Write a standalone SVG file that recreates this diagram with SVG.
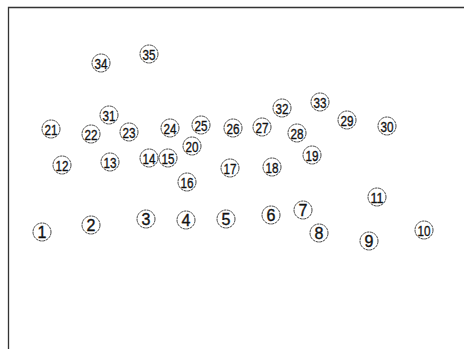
<svg xmlns="http://www.w3.org/2000/svg" width="464" height="349" viewBox="0 0 464 349">
<style>
.n circle{fill:#fff;stroke:#333;stroke-width:0.9;stroke-dasharray:3 0.6}
.n text{font-family:"Liberation Sans",Arial,sans-serif;font-size:16px;fill:#111;stroke:#111;stroke-width:0.35;text-anchor:middle;dominant-baseline:central}
.n text.d{font-size:15.5px}
.frame{fill:none;stroke:#333;stroke-width:1.3}
</style>
<rect width="464" height="349" fill="#fff"/>
<path class="frame" d="M8.5 349V7.5H464"/>
<g id="connectors"></g>
<g id="n1" class="n"><circle cx="42" cy="232" r="9"/><text x="42" y="232.5">1</text></g>
<g id="n2" class="n"><circle cx="91" cy="225" r="9"/><text x="91" y="225.5">2</text></g>
<g id="n3" class="n"><circle cx="146" cy="219" r="9"/><text x="146" y="219.5">3</text></g>
<g id="n4" class="n"><circle cx="186" cy="220" r="9"/><text x="186" y="220.5">4</text></g>
<g id="n5" class="n"><circle cx="226" cy="219" r="9"/><text x="226" y="219.5">5</text></g>
<g id="n6" class="n"><circle cx="271" cy="215" r="9"/><text x="271" y="215.5">6</text></g>
<g id="n7" class="n"><circle cx="303" cy="210" r="9"/><text x="303" y="210.5">7</text></g>
<g id="n8" class="n"><circle cx="319" cy="233" r="9"/><text x="319" y="233.5">8</text></g>
<g id="n9" class="n"><circle cx="369" cy="241" r="9"/><text x="369" y="241.5">9</text></g>
<g id="n10" class="n"><circle cx="424" cy="230" r="9"/><text class="d" x="424" y="230.5" textLength="13" lengthAdjust="spacingAndGlyphs">10</text></g>
<g id="n11" class="n"><circle cx="377" cy="197" r="9"/><text class="d" x="377" y="197.5" textLength="13" lengthAdjust="spacingAndGlyphs">11</text></g>
<g id="n12" class="n"><circle cx="62" cy="165" r="9"/><text class="d" x="62" y="165.5" textLength="13" lengthAdjust="spacingAndGlyphs">12</text></g>
<g id="n13" class="n"><circle cx="110" cy="162" r="9"/><text class="d" x="110" y="162.5" textLength="13" lengthAdjust="spacingAndGlyphs">13</text></g>
<g id="n14" class="n"><circle cx="149" cy="158" r="9"/><text class="d" x="149" y="158.5" textLength="13" lengthAdjust="spacingAndGlyphs">14</text></g>
<g id="n15" class="n"><circle cx="168" cy="158" r="9"/><text class="d" x="168" y="158.5" textLength="13" lengthAdjust="spacingAndGlyphs">15</text></g>
<g id="n16" class="n"><circle cx="187" cy="182" r="9"/><text class="d" x="187" y="182.5" textLength="13" lengthAdjust="spacingAndGlyphs">16</text></g>
<g id="n17" class="n"><circle cx="230" cy="168" r="9"/><text class="d" x="230" y="168.5" textLength="13" lengthAdjust="spacingAndGlyphs">17</text></g>
<g id="n18" class="n"><circle cx="272" cy="167" r="9"/><text class="d" x="272" y="167.5" textLength="13" lengthAdjust="spacingAndGlyphs">18</text></g>
<g id="n19" class="n"><circle cx="312" cy="155" r="9"/><text class="d" x="312" y="155.5" textLength="13" lengthAdjust="spacingAndGlyphs">19</text></g>
<g id="n20" class="n"><circle cx="192" cy="146" r="9"/><text class="d" x="192" y="146.5" textLength="13" lengthAdjust="spacingAndGlyphs">20</text></g>
<g id="n21" class="n"><circle cx="51" cy="129" r="9"/><text class="d" x="51" y="129.5" textLength="13" lengthAdjust="spacingAndGlyphs">21</text></g>
<g id="n22" class="n"><circle cx="91" cy="134" r="9"/><text class="d" x="91" y="134.5" textLength="13" lengthAdjust="spacingAndGlyphs">22</text></g>
<g id="n23" class="n"><circle cx="129" cy="132" r="9"/><text class="d" x="129" y="132.5" textLength="13" lengthAdjust="spacingAndGlyphs">23</text></g>
<g id="n24" class="n"><circle cx="170" cy="128" r="9"/><text class="d" x="170" y="128.5" textLength="13" lengthAdjust="spacingAndGlyphs">24</text></g>
<g id="n25" class="n"><circle cx="201" cy="125" r="9"/><text class="d" x="201" y="125.5" textLength="13" lengthAdjust="spacingAndGlyphs">25</text></g>
<g id="n26" class="n"><circle cx="233" cy="128" r="9"/><text class="d" x="233" y="128.5" textLength="13" lengthAdjust="spacingAndGlyphs">26</text></g>
<g id="n27" class="n"><circle cx="262" cy="127" r="9"/><text class="d" x="262" y="127.5" textLength="13" lengthAdjust="spacingAndGlyphs">27</text></g>
<g id="n28" class="n"><circle cx="297" cy="133" r="9"/><text class="d" x="297" y="133.5" textLength="13" lengthAdjust="spacingAndGlyphs">28</text></g>
<g id="n29" class="n"><circle cx="347" cy="120" r="9"/><text class="d" x="347" y="120.5" textLength="13" lengthAdjust="spacingAndGlyphs">29</text></g>
<g id="n30" class="n"><circle cx="387" cy="126" r="9"/><text class="d" x="387" y="126.5" textLength="13" lengthAdjust="spacingAndGlyphs">30</text></g>
<g id="n31" class="n"><circle cx="109" cy="115" r="9"/><text class="d" x="109" y="115.5" textLength="13" lengthAdjust="spacingAndGlyphs">31</text></g>
<g id="n32" class="n"><circle cx="282" cy="108" r="9"/><text class="d" x="282" y="108.5" textLength="13" lengthAdjust="spacingAndGlyphs">32</text></g>
<g id="n33" class="n"><circle cx="320" cy="102" r="9"/><text class="d" x="320" y="102.5" textLength="13" lengthAdjust="spacingAndGlyphs">33</text></g>
<g id="n34" class="n"><circle cx="101" cy="63" r="9"/><text class="d" x="101" y="63.5" textLength="13" lengthAdjust="spacingAndGlyphs">34</text></g>
<g id="n35" class="n"><circle cx="149" cy="54" r="9"/><text class="d" x="149" y="54.5" textLength="13" lengthAdjust="spacingAndGlyphs">35</text></g>
</svg>
